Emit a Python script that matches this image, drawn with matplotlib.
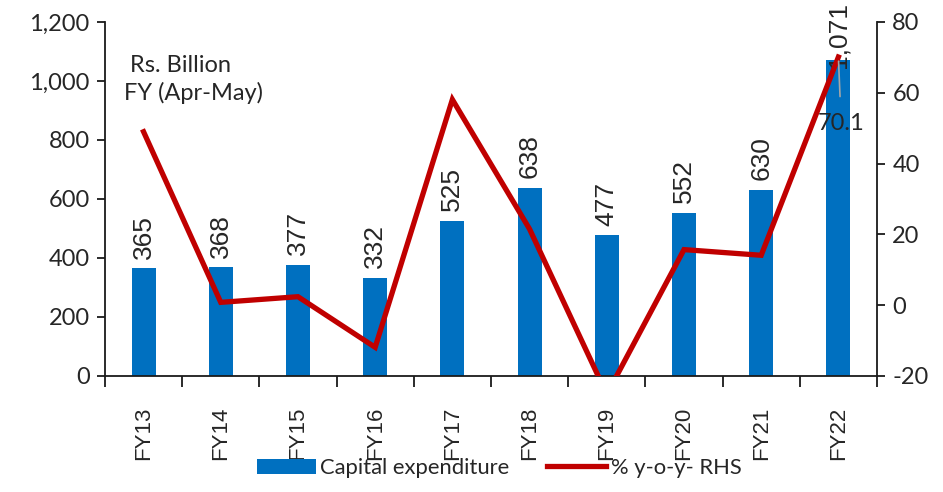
import matplotlib
matplotlib.use("Agg")
import matplotlib.pyplot as plt
import numpy as np

years = ["FY13", "FY14", "FY15", "FY16", "FY17", "FY18", "FY19", "FY20", "FY21", "FY22"]
capex = [365, 368, 377, 332, 525, 638, 477, 552, 630, 1071]
yoy = [49.0, 0.8, 2.4, -11.9, 58.1, 21.5, -25.2, 15.7, 14.1, 70.1]
capex_labels = ["365", "368", "377", "332", "525", "638", "477", "552", "630", "1,071"]

BLUE = "#0070C0"
RED = "#C00000"
TXT = "#262626"
label_font = "Lato"
num_font = "Liberation Sans"

plt.rcParams["axes.unicode_minus"] = False

fig = plt.figure(figsize=(9.43, 4.92), dpi=100)
ax = fig.add_axes([0.1113, 0.2358, 0.8187, 0.7195])
ax2 = ax.twinx()

x = np.arange(len(years))
bars = ax.bar(x, capex, width=0.31, color=BLUE, zorder=2, label="Capital expenditure")
line, = ax2.plot(x, yoy, color=RED, lw=3.8, zorder=3, label="% y-o-y- RHS",
                 solid_joinstyle="miter")

ax.set_xlim(-0.5, len(years) - 0.5)
ax.set_ylim(0, 1200)
ax2.set_ylim(-20, 80)
ax.set_yticks(np.arange(0, 1201, 200))
ax.set_yticklabels([f"{v:,}" for v in range(0, 1201, 200)])
ax2.set_yticks(np.arange(-20, 81, 20))

for a in (ax, ax2):
    a.spines["top"].set_visible(False)
    for s in a.spines.values():
        s.set_color("#1a1a1a")
        s.set_linewidth(1.3)
ax2.spines["left"].set_visible(False)
ax2.spines["bottom"].set_visible(False)
ax.spines["right"].set_visible(False)

ax.tick_params(axis="y", direction="out", length=6, width=1.3, color="#1a1a1a",
               labelsize=17, labelcolor=TXT, pad=5)
ax2.tick_params(axis="y", direction="out", length=6, width=1.3, color="#1a1a1a",
                labelsize=17, labelcolor=TXT, pad=5)
for t in ax.get_yticklabels() + ax2.get_yticklabels():
    t.set_fontfamily(label_font)

# category labels at centres, tick marks at the boundaries
ax.set_xticks(x)
ax.set_xticklabels(years, rotation=90, fontsize=16, fontfamily=num_font, color=TXT)
ax.tick_params(axis="x", which="major", length=0, pad=22)
ax.set_xticks(np.arange(-0.5, len(years)), minor=True)
ax.tick_params(axis="x", which="minor", direction="out", length=8, width=1.3, color="#1a1a1a")

# value labels above the bars; the tallest one is tucked down to stay inside the figure
for i, (v, lab) in enumerate(zip(capex, capex_labels)):
    off = 7 if v < 1000 else -6
    ax.annotate(lab, (i, v), xytext=(0, off), textcoords="offset points",
                rotation=90, ha="center", va="bottom", fontsize=19,
                fontfamily=num_font, color=TXT, annotation_clip=False, zorder=5)

# growth label on the last point with a leader line
ax2.annotate(f"{yoy[-1]:.1f}", (x[-1], yoy[-1]), xytext=(2, -48), textcoords="offset points",
             ha="center", va="center", fontsize=17, fontfamily=label_font, color=TXT,
             arrowprops=dict(arrowstyle="-", color="#A6A6A6", lw=1.2, shrinkA=10, shrinkB=3),
             zorder=6)

fig.text(130 / 943, 1 - 65 / 492, "Rs. Billion", fontsize=17, fontfamily=label_font,
         color=TXT, ha="left", va="center")
fig.text(124 / 943, 1 - 93 / 492, "FY (Apr-May)", fontsize=17, fontfamily=label_font,
         color=TXT, ha="left", va="center")

leg = fig.legend(handles=[bars, line], labels=["Capital expenditure", "% y-o-y- RHS"],
                 loc="center", bbox_to_anchor=(499 / 943, 1 - 468 / 492), ncol=2,
                 frameon=False, prop={"family": label_font, "size": 15.8},
                 handlelength=2.7, handleheight=0.65, columnspacing=1.7, handletextpad=0.2)
for t in leg.get_texts():
    t.set_color(TXT)

fig.savefig("out.png", dpi=100)
